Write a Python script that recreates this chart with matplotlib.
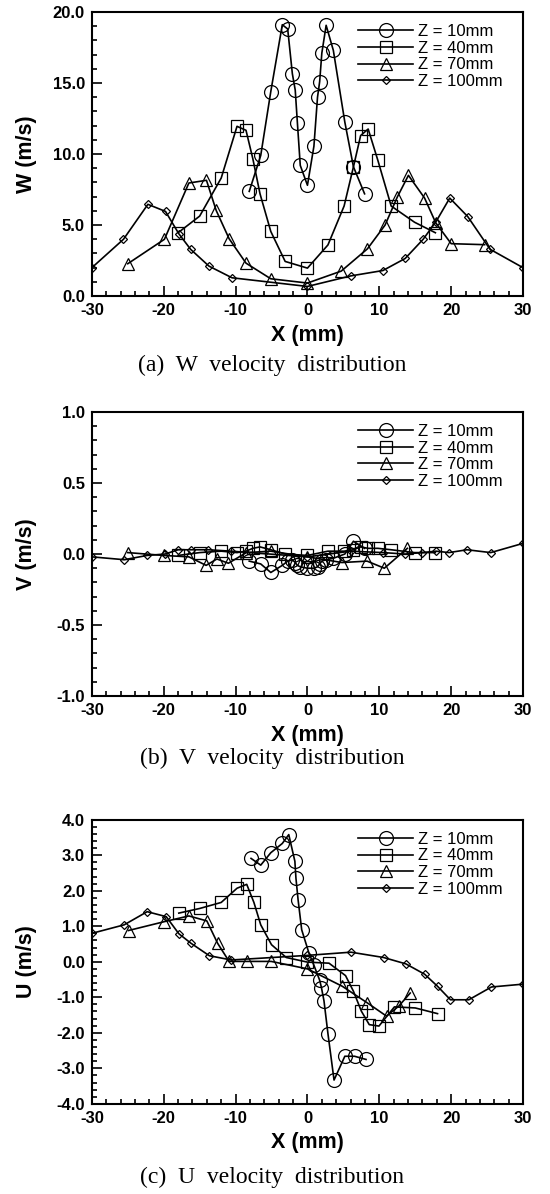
import matplotlib
matplotlib.use("Agg")
import matplotlib.pyplot as plt
from matplotlib.ticker import MultipleLocator, FormatStrFormatter

plt.rcParams['font.family'] = ['Liberation Sans', 'DejaVu Sans']
plt.rcParams['font.weight'] = 'bold'
plt.rcParams['axes.unicode_minus'] = False

labels = ["Z = 10mm", "Z = 40mm", "Z = 70mm", "Z = 100mm"]
markers = ["o", "s", "^", "D"]
msizes = [10, 9, 8.5, 4.5]

# (a) W velocity
w10_x = [-8.1, -6.5, -5.1, -3.5, -2.75, -2.1, -1.7, -1.4, -1.0, 0.0, 0.9, 1.4, 1.7, 2.0, 2.6, 3.6, 5.2, 6.4, 7.95]
w10_y = [7.37, 9.9, 14.4, 19.1, 18.8, 15.65, 14.5, 12.2, 9.2, 7.8, 10.55, 14.0, 15.1, 17.1, 19.06, 17.3, 12.25, 9.1, 7.2]
w40_x = [-18.0, -15.0, -12.0, -9.8, -8.55, -7.6, -6.6, -5.1, -3.1, 0.0, 2.85, 5.1, 6.4, 7.4, 8.45, 9.8, 11.65, 14.9, 17.8]
w40_y = [4.46, 5.63, 8.31, 11.95, 11.67, 9.67, 7.2, 4.55, 2.44, 1.97, 3.6, 6.34, 9.1, 11.3, 11.76, 9.55, 6.34, 5.2, 4.46]
w70_x = [-25.0, -19.9, -16.5, -14.05, -12.7, -10.9, -8.55, -5.1, 0.0, 4.7, 8.35, 10.8, 12.5, 14.05, 16.3, 17.85, 20.0, 24.65]
w70_y = [2.28, 4.0, 7.96, 8.15, 6.03, 4.04, 2.32, 1.22, 0.92, 1.76, 3.33, 5.0, 6.97, 8.5, 6.9, 5.16, 3.69, 3.62]
w100_x = [-30.0, -25.6, -22.2, -19.75, -17.9, -16.25, -13.7, -10.5, 0.0, 6.0, 10.5, 13.6, 16.1, 17.9, 19.8, 22.3, 25.4, 30.0]
w100_y = [2.0, 4.0, 6.46, 5.96, 4.39, 3.29, 2.11, 1.29, 0.68, 1.42, 1.8, 2.65, 4.0, 5.25, 6.9, 5.6, 3.3, 2.0]

# (b) V velocity
v10_x = w10_x
v10_y = [-0.05, -0.07, -0.13, -0.08, -0.05, -0.04, -0.06, -0.08, -0.09, -0.10, -0.10, -0.09, -0.07, -0.05, -0.04, -0.03, 0.0, 0.09, 0.04]
v40_x = w40_x
v40_y = [-0.01, 0.01, 0.02, 0.01, 0.02, 0.04, 0.05, 0.03, 0.0, -0.01, 0.02, 0.02, 0.03, 0.05, 0.04, 0.04, 0.03, 0.01, 0.01]
v70_x = [-25.0, -20.0, -16.5, -14.1, -12.6, -11.0, -8.5, -5.1, 0.0, 4.8, 8.3, 10.7, 13.9]
v70_y = [0.01, -0.01, -0.02, -0.08, -0.035, -0.065, 0.01, 0.02, -0.02, -0.06, -0.05, -0.10, 0.04]
v100_x = [-30.0, -25.5, -22.3, -19.8, -18.0, -16.2, -13.8, -10.6, 0.0, 6.0, 10.5, 13.6, 16.0, 17.9, 19.7, 22.2, 25.5, 30.0]
v100_y = [-0.02, -0.04, -0.01, 0.0, 0.03, 0.03, 0.03, 0.02, -0.02, 0.02, 0.01, 0.0, 0.01, 0.02, 0.01, 0.03, 0.01, 0.075]

# (c) U velocity
u10_x = [-7.85, -6.5, -5.1, -3.5, -2.6, -1.75, -1.6, -1.3, -0.8, 0.2, 0.9, 1.7, 1.95, 2.3, 2.85, 3.7, 5.2, 6.55, 8.15]
u10_y = [2.91, 2.72, 3.07, 3.33, 3.58, 2.83, 2.35, 1.74, 0.9, 0.25, -0.1, -0.52, -0.73, -1.1, -2.02, -3.33, -2.66, -2.66, -2.75]
u40_x = [-17.9, -15.0, -12.0, -9.8, -8.45, -7.45, -6.5, -5.0, -2.95, 0.0, 3.0, 5.3, 6.4, 7.5, 8.6, 9.95, 12.1, 15.0, 18.1]
u40_y = [1.37, 1.5, 1.67, 2.07, 2.18, 1.67, 1.04, 0.48, 0.12, -0.01, -0.04, -0.39, -0.83, -1.39, -1.77, -1.81, -1.27, -1.3, -1.46]
u70_x = [-24.9, -19.9, -16.5, -14.0, -12.5, -10.9, -8.45, -5.05, 0.0, 4.85, 8.35, 11.0, 12.7, 14.3]
u70_y = [0.88, 1.13, 1.29, 1.15, 0.52, 0.01, 0.01, 0.01, -0.2, -0.69, -1.16, -1.53, -1.25, -0.88]
u100_x = [-30.0, -25.5, -22.3, -19.65, -17.9, -16.2, -13.65, -10.6, 0.0, 6.05, 10.6, 13.7, 16.3, 18.1, 19.9, 22.45, 25.6, 30.0]
u100_y = [0.8, 1.04, 1.41, 1.27, 0.79, 0.52, 0.17, 0.05, 0.18, 0.27, 0.12, -0.06, -0.35, -0.69, -1.07, -1.07, -0.71, -0.63]

panels = [
    ([(w10_x, w10_y), (w40_x, w40_y), (w70_x, w70_y), (w100_x, w100_y)],
     "W (m/s)", (0, 20), 5, 1, "(a)  W  velocity  distribution"),
    ([(v10_x, v10_y), (v40_x, v40_y), (v70_x, v70_y), (v100_x, v100_y)],
     "V (m/s)", (-1, 1), 0.5, 0.1, "(b)  V  velocity  distribution"),
    ([(u10_x, u10_y), (u40_x, u40_y), (u70_x, u70_y), (u100_x, u100_y)],
     "U (m/s)", (-4, 4), 1, 0.2, "(c)  U  velocity  distribution"),
]

fig = plt.figure(figsize=(5.5, 11.94), dpi=100)
bottoms = [0.752, 0.417, 0.0755]
caption_y = [0.694, 0.365, 0.014]

for i, (series, ylab, ylim, ymaj, ymin, cap) in enumerate(panels):
    ax = fig.add_axes([0.167, bottoms[i], 0.784, 0.238])
    for (xs, ys), m, ms, lab in zip(series, markers, msizes, labels):
        ax.plot(xs, ys, color="black", lw=1.2, marker=m, ms=ms,
                mfc="none", mec="black", mew=0.9, label=lab)
    ax.set_xlim(-30, 30)
    ax.set_ylim(*ylim)
    ax.xaxis.set_major_locator(MultipleLocator(10))
    ax.xaxis.set_minor_locator(MultipleLocator(2))
    ax.yaxis.set_major_locator(MultipleLocator(ymaj))
    ax.yaxis.set_minor_locator(MultipleLocator(ymin))
    ax.yaxis.set_major_formatter(FormatStrFormatter("%.1f"))
    ax.tick_params(which="both", direction="in", top=False, right=False,
                   labelsize=12, width=1.2)
    ax.tick_params(which="major", length=7, pad=5)
    ax.tick_params(which="minor", length=3.5)
    for s in ax.spines.values():
        s.set_linewidth(1.5)
    ax.set_xlabel("X (mm)", fontsize=15.5, fontweight="bold")
    ax.set_ylabel(ylab, fontsize=15.5, fontweight="bold")
    ax.xaxis.set_label_coords(0.5, -0.1)
    ax.yaxis.set_label_coords(-0.128, 0.5)
    ax.legend(loc="upper right", bbox_to_anchor=(0.969, 0.981), borderaxespad=0,
              frameon=False, prop={"size": 12, "weight": "normal"},
              handlelength=3.3, labelspacing=0.1, handletextpad=0.3)
    fig.text(0.495, caption_y[i], cap, ha="center", va="center",
             fontsize=17, fontweight="normal",
             family=["Liberation Serif", "DejaVu Serif"])

fig.savefig("out.png", dpi=100)
